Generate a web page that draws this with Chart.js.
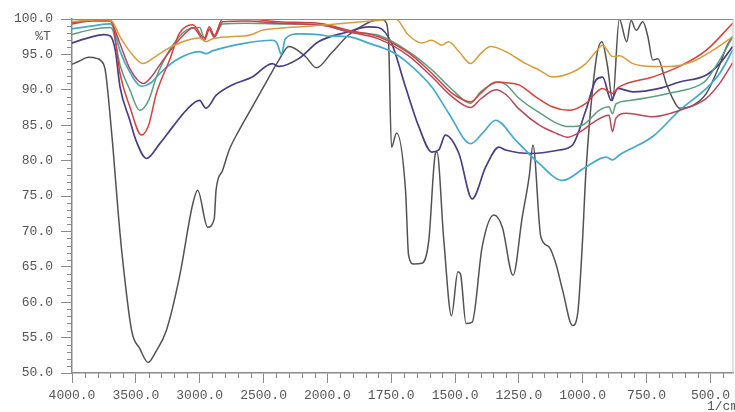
<!DOCTYPE html>
<html>
<head>
<meta charset="utf-8">
<script src="https://cdn.jsdelivr.net/npm/chart.js@4.4.0/dist/chart.umd.min.js"></script>
<style>
  html, body { margin: 0; padding: 0; background: #fff; overflow: hidden; }
  #wrap { width: 735px; height: 412px; }
</style>
</head>
<body>
<div id="wrap"><canvas id="ftir"></canvas></div>
<script>
// axis ticks
const xTickValues = [4000, 3500, 3000, 2500, 2000, 1750, 1500, 1250, 1000, 750, 500];
const yTickValues = [50, 55, 60, 65, 70, 75, 80, 85, 90, 95, 100];

// spectra: wavenumber (1/cm) and %T
const grayWn = [4000,3950,3870,3800,3780,3740,3710,3680,3640,3611,3533,3468,3404,3344,3261,3158,3054,3016,2938,2886,2872,2821,2769,2691,2588,2484,2380,2300,2172,2085,1984,1918,1850,1792,1770,1760,1749,1729,1694,1682,1662,1630,1603,1577,1571,1544,1514,1489,1479,1457,1433,1394,1348,1315,1273,1237,1210,1195,1164,1132,1105,1079,1040,1020,1001,988,948,925,903,883,857,828,811,791,765,745,726,706,673,641,621,569,516,464,437,413];
const grayT  = [93.6,94.0,94.6,94.4,94.2,92.8,88.0,82.0,73.0,67.3,56.0,53.4,51.5,53.0,56.0,63.6,73.9,75.8,70.6,71.8,75.8,78.6,81.5,84.3,87.6,90.9,94.2,96.1,94.7,93.1,95.2,97.7,99.3,100,99.5,96.6,81.9,83.9,75.8,66.6,65.4,65.5,68.7,81.0,81.2,68.7,58.1,64.3,64.0,57.0,57.2,67.8,72.3,70.6,63.8,72.0,77.7,82.2,69.2,67.8,65.4,61.7,56.7,58.4,68.7,78.2,94.2,96.8,93.3,88.5,100,96.8,99.8,98.4,99.6,97.5,94.2,94.4,90.9,88.3,87.4,87.8,89.5,93.5,96.1,97.5];

const orangeWn = [4000,3900,3750,3690,3624,3547,3443,3370,3288,3158,3002,2950,2900,2760,2613,2510,2380,2200,2069,2000,1900,1800,1733,1682,1631,1591,1552,1525,1485,1439,1400,1361,1302,1223,1171,1119,1053,988,948,922,883,857,804,726,660,569,490,413];
const orangeT  = [99.6,99.8,99.9,99.7,97.5,95.4,93.7,94.4,95.4,96.6,97.3,96.8,97.2,97.5,97.7,98.4,98.7,98.9,99.1,99.2,99.5,99.8,100,97.7,96.6,97.0,96.3,96.8,95.4,93.7,95.1,96.1,95.4,93.7,92.8,91.8,92.3,93.7,95.4,96.3,94.7,94.8,93.7,93.3,93.3,94.0,95.6,97.5];

const redWn = [4000,3850,3700,3680,3624,3547,3456,3400,3339,3236,3158,3054,2963,2925,2886,2821,2640,2380,2069,2000,1918,1800,1682,1590,1511,1439,1400,1340,1300,1250,1184,1120,1053,988,923,884,857,727,621,516,413];
const redT  = [99.5,99.8,99.8,99.3,92.3,87.6,83.6,85.0,89.5,94.2,98.0,99.2,97.3,98.9,97.7,100,100,99.6,99.4,99.2,98.4,97.5,95.2,92.3,89.5,88.3,89.5,91.1,91.0,90.7,89.0,87.6,87.1,88.1,90.2,89.5,90.4,91.8,93.3,95.6,99.4];

const roseWn = [4000,3850,3700,3680,3624,3547,3440,3380,3313,3184,3100,3054,2963,2925,2886,2821,2640,2380,2069,2000,1918,1800,1682,1590,1511,1439,1400,1340,1300,1250,1170,1100,1060,1000,963,897,884,870,829,726,621,516,464,413];
const roseT  = [99.3,99.7,99.7,99.2,96.5,93.0,90.9,91.8,93.5,96.6,98.2,98.8,97.0,98.5,97.4,99.6,99.7,99.4,99.2,99.0,98.2,97.2,94.8,91.8,89.0,87.5,88.7,90.0,89.3,87.3,85.0,83.8,83.3,84.3,85.3,86.4,84.1,86.0,86.7,86.2,87.1,88.8,90.9,93.8];

const greenWn = [4000,3850,3700,3680,3624,3547,3470,3400,3339,3236,3106,3000,2963,2925,2886,2821,2640,2380,2069,2000,1918,1800,1682,1590,1511,1439,1400,1328,1300,1250,1184,1053,1002,936,897,884,870,817,660,542,516,464,413];
const greenT  = [97.8,98.5,98.8,98.4,93.5,90.0,87.1,88.5,91.8,95.6,98.4,98.8,97.3,98.6,97.5,99.3,99.4,99.3,99.2,99.0,98.2,97.7,95.4,92.8,90.0,88.1,89.7,91.1,90.7,88.8,87.1,84.8,85.0,87.1,87.6,86.6,88.0,88.5,89.5,90.7,91.4,94.2,97.5];

const blueWn = [4000,3850,3700,3680,3624,3547,3456,3380,3313,3184,3002,2950,2900,2640,2432,2395,2360,2330,2225,2069,2000,1918,1839,1749,1682,1591,1525,1439,1394,1341,1263,1171,1079,988,909,883,857,726,621,516,464,413];
const blueT  = [98.6,99.0,99.3,99.0,95.5,92.5,90.5,91.0,92.3,94.2,95.4,95.1,95.5,96.6,97.0,96.6,95.0,97.2,97.9,97.8,97.6,97.5,96.6,95.4,93.7,90.4,86.7,82.4,83.8,85.7,82.9,79.6,77.2,79.1,80.5,80.1,80.8,83.4,87.1,90.2,92.3,95.6];

const purpleWn = [4000,3900,3750,3700,3660,3624,3547,3500,3417,3313,3210,3106,3002,2950,2872,2743,2588,2432,2380,2225,2070,1918,1839,1800,1749,1694,1642,1591,1564,1538,1485,1433,1380,1328,1302,1197,1092,1040,988,948,922,889,863,804,700,621,516,464,413];
const purpleT  = [96.6,97.2,97.8,97.6,95.5,90.4,85.7,82.9,80.3,82.4,84.8,87.1,88.5,87.4,89.2,90.7,91.8,93.7,93.3,94.4,96.8,98.2,98.9,98.8,96.6,90.4,84.8,81.2,81.5,83.6,81.0,74.6,79.1,81.9,81.5,81.0,81.5,82.2,87.1,91.4,91.8,88.5,90.2,89.7,90.2,91.1,92.1,93.7,96.1];

// x axis: 4000-2000 at half scale, 2000-410 at full scale
const X_MIN = 410, X_MAX = 4000;
function toU(w) { return w >= 2000 ? (4000 - w) / 2 : 1000 + (2000 - w); }
function fromU(u) { return u <= 1000 ? 4000 - 2 * u : 2000 - (u - 1000); }
const U_TOTAL = toU(X_MIN);

class WaveScale extends Chart.LinearScale {
    buildTicks() {
        this.start = this.min;
        this.end = this.max;
        return xTickValues.map(v => ({ value: v }));
    }
    getPixelForValue(value) {
        if (value === null || value === undefined || isNaN(value)) return NaN;
        return this.getPixelForDecimal(toU(value) / U_TOTAL);
    }
    getValueForPixel(pixel) {
        return fromU(this.getDecimalForPixel(pixel) * U_TOTAL);
    }
}
WaveScale.id = 'wave';
WaveScale.defaults = {};
Chart.register(WaveScale);

function pts(wn, t) { return wn.map((w, i) => ({ x: w, y: t[i] })); }

const axisColor = '#8a8a8a';
const labelFont = { family: 'Liberation Mono', size: 13 };

const decorations = {
    id: 'decorations',
    afterDraw(chart) {
        const { ctx, chartArea: a, scales } = chart;
        const x = scales.x, y = scales.y;
        ctx.save();
        ctx.strokeStyle = axisColor;
        ctx.lineWidth = 1;
        // frame top
        ctx.beginPath();
        ctx.moveTo(a.left, a.top + 0.5);
        ctx.lineTo(a.right, a.top + 0.5);
        ctx.stroke();
        ctx.strokeStyle = '#c4c4c4';
        ctx.beginPath();
        ctx.moveTo(a.right - 0.5, a.top);
        ctx.lineTo(a.right - 0.5, a.bottom);
        ctx.stroke();

        // minor ticks
        ctx.strokeStyle = axisColor;
        ctx.beginPath();
        for (let w = 3900; w > 2000; w -= 100) {
            if (xTickValues.includes(w)) continue;
            const px = Math.round(x.getPixelForValue(w)) + 0.5;
            ctx.moveTo(px, a.bottom);
            ctx.lineTo(px, a.bottom + 5);
        }
        for (let w = 1950; w >= X_MIN; w -= 50) {
            if (xTickValues.includes(w)) continue;
            const px = Math.round(x.getPixelForValue(w)) + 0.5;
            ctx.moveTo(px, a.bottom);
            ctx.lineTo(px, a.bottom + 5);
        }
        for (let v = 51; v < 100; v++) {
            if (yTickValues.includes(v)) continue;
            const py = Math.round(y.getPixelForValue(v)) + 0.5;
            ctx.moveTo(a.left, py);
            ctx.lineTo(a.left - 5, py);
        }
        ctx.stroke();

        ctx.fillStyle = '#555';
        ctx.font = '13px "Liberation Mono"';
        ctx.textBaseline = 'middle';
        ctx.textAlign = 'center';
        ctx.fillText('%T', 43, 37);
        ctx.textAlign = 'left';
        ctx.fillText('1/cm', 707, 407);
        ctx.restore();
    }
};

const line = (data, color, width) => ({
    data: data,
    borderColor: color,
    borderWidth: width || 1.5,
    pointRadius: 0,
    fill: false,
    cubicInterpolationMode: 'monotone'
});

new Chart(document.getElementById('ftir'), {
    type: 'line',
    data: {
        datasets: [
            line(pts(orangeWn, orangeT), '#d99c3c'),
            line(pts(redWn, redT), '#d8413a'),
            line(pts(roseWn, roseT), '#b8475c'),
            line(pts(greenWn, greenT), '#5d9c7e'),
            line(pts(blueWn, blueT), '#45a9cc', 1.7),
            line(pts(purpleWn, purpleT), '#4b3d84', 1.7),
            line(pts(grayWn, grayT), '#525252', 1.5)
        ]
    },
    options: {
        responsive: true,
        maintainAspectRatio: false,
        animation: false,
        layout: { padding: { top: 19, right: 1, left: 0, bottom: 0 } },
        plugins: { legend: { display: false }, tooltip: { enabled: false } },
        scales: {
            x: {
                type: 'wave',
                min: X_MIN,
                max: X_MAX,
                afterFit: s => { s.height = 39; },
                border: { display: true, color: axisColor, width: 1.5 },
                grid: { drawOnChartArea: false, drawTicks: true, tickLength: 10, color: axisColor },
                ticks: {
                    autoSkip: false,
                    maxRotation: 0,
                    padding: 5,
                    color: '#555',
                    font: labelFont,
                    callback: v => Number(v).toFixed(1)
                }
            },
            y: {
                min: 50,
                max: 100,
                afterFit: s => { s.width = 72; },
                afterBuildTicks: s => { s.ticks = yTickValues.map(v => ({ value: v })); },
                border: { display: true, color: axisColor, width: 1.5 },
                grid: { drawOnChartArea: false, drawTicks: true, tickLength: 11, color: axisColor },
                ticks: {
                    padding: 8,
                    color: '#555',
                    font: labelFont,
                    callback: v => Number(v).toFixed(1)
                }
            }
        }
    },
    plugins: [decorations]
});
</script>
</body>
</html>
